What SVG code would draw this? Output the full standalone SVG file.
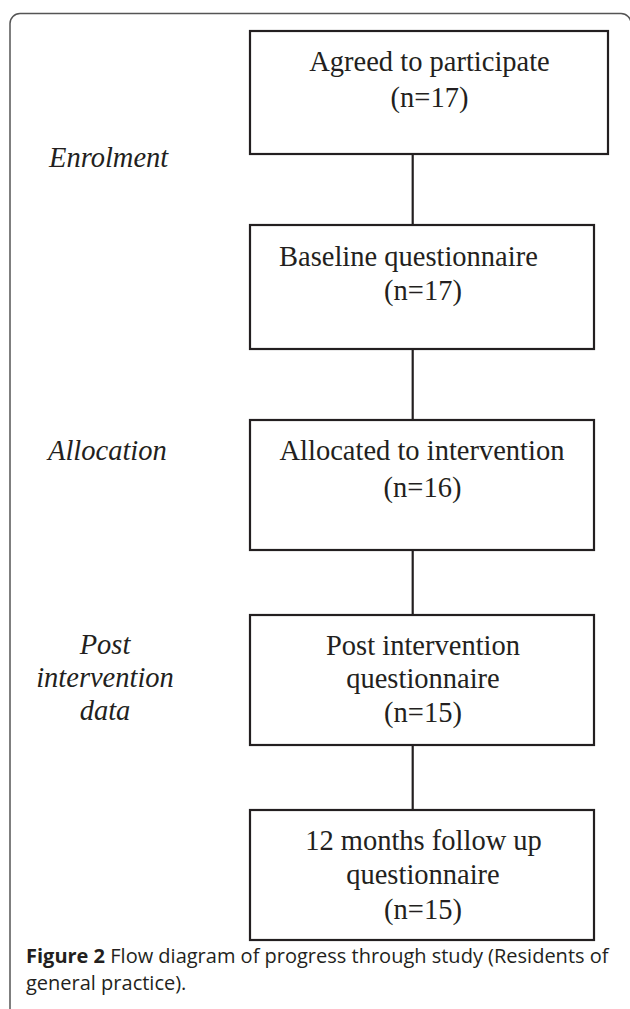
<svg xmlns="http://www.w3.org/2000/svg" width="630" height="1009" viewBox="0 0 630 1009">
<style>
.box{fill:#fff;stroke:#231f20;stroke-width:2.2}
.t{font-family:"Liberation Serif","Times New Roman",serif;font-size:28.5px;fill:#231f20;text-anchor:middle}
.ts{text-anchor:start}
.lab{font-family:"Liberation Serif","Times New Roman",serif;font-size:28.5px;font-style:italic;fill:#231f20}
.mid{text-anchor:middle}
.conn line{stroke:#231f20;stroke-width:2.2}
.cap{font-family:"Open Sans","Noto Sans",sans-serif;font-size:20px;fill:#231f20}
</style>
<rect width="630" height="1009" fill="#fff"/>
<path d="M10 1012 V23.5 A10 10 0 0 1 20 13.5 H621 A10 10 0 0 1 631 23.5 V1012" fill="none" stroke="#555" stroke-width="1.5"/>
<g id="labels">
<text class="lab" x="49" y="167">Enrolment</text>
<text class="lab" x="48" y="460">Allocation</text>
<text class="lab mid" x="105" y="654">Post</text>
<text class="lab mid" x="105" y="687">intervention</text>
<text class="lab mid" x="105" y="720">data</text>
</g>
<g class="conn" id="connectors">
<line x1="412.7" y1="154" x2="412.7" y2="225"/>
<line x1="412.7" y1="349" x2="412.7" y2="420"/>
<line x1="412.7" y1="550" x2="412.7" y2="615"/>
<line x1="412.7" y1="745" x2="412.7" y2="810"/>
</g>
<g id="node1">
<rect class="box" x="250" y="31" width="358" height="123"/>
<text class="t" x="429.5" y="71">Agreed to participate</text>
<text class="t" x="429.5" y="107">(n=17)</text>
</g>
<g id="node2">
<rect class="box" x="250" y="225" width="344" height="124"/>
<text class="t ts" x="279" y="266">Baseline questionnaire</text>
<text class="t" x="423" y="300">(n=17)</text>
</g>
<g id="node3">
<rect class="box" x="250" y="420" width="344" height="130"/>
<text class="t" x="422" y="460">Allocated to intervention</text>
<text class="t" x="422.5" y="497">(n=16)</text>
</g>
<g id="node4">
<rect class="box" x="250" y="615" width="344" height="130"/>
<text class="t" x="423" y="655">Post intervention</text>
<text class="t" x="423" y="688">questionnaire</text>
<text class="t" x="423" y="722">(n=15)</text>
</g>
<g id="node5">
<rect class="box" x="250" y="810" width="344" height="130"/>
<text class="t" x="423.5" y="850">12 months follow up</text>
<text class="t" x="423" y="884">questionnaire</text>
<text class="t" x="423" y="919">(n=15)</text>
</g>
<g id="caption">
<text class="cap" x="26" y="963"><tspan font-weight="bold">Figure 2</tspan> Flow diagram of progress through study (Residents of</text>
<text class="cap" x="26" y="990">general practice).</text>
</g>
</svg>
